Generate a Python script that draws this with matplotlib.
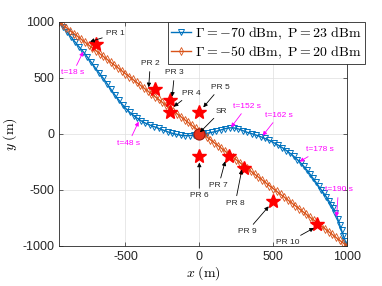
import matplotlib
matplotlib.use("Agg")
import matplotlib.pyplot as plt

plt.rcParams["mathtext.fontset"] = "cm"
plt.rcParams["axes.unicode_minus"] = False

# trajectory 1 (blue): Gamma=-70 dBm, P=23 dBm
blue_x = [-950, -922, -895, -868, -843, -815, -786, -760, -733, -707, -680, -652,
          -625, -598, -570, -545, -520, -495, -470, -445, -420, -393, -365, -335,
          -305, -275, -245, -215, -185, -155, -125, -95, -65, -35, -5, 25, 55, 85,
          115, 145, 175, 205, 235, 265, 295, 325, 355, 385, 415, 445, 475, 505, 535,
          563, 590, 615, 640, 663, 686, 708, 730, 750, 770, 790, 808, 826, 843, 860,
          876, 892, 907, 922, 936, 950, 963, 976, 988, 1000]
blue_y = [1000, 955, 910, 866, 824, 780, 735, 690, 643, 595, 548, 500,
          450, 398, 345, 303, 262, 224, 192, 165, 140, 117, 97, 80,
          65, 50, 35, 20, 7, -3, -11, -15, -14, -10, -4, 2, 7, 15,
          24, 36, 48, 55, 54, 45, 30, 15, 3, -10, -24, -40, -58, -78, -100,
          -123, -148, -173, -200, -228, -258, -290, -325, -360, -396, -432, -466, -500, -530, -562,
          -595, -630, -665, -705, -755, -810, -860, -910, -955, -1000]

# trajectory 2 (orange): Gamma=-50 dBm, P=20 dBm
orange_x = [-950, -925, -900, -875, -850, -825, -800, -775, -750, -725, -700, -675,
            -650, -625, -600, -575, -550, -525, -500, -475, -450, -425, -400, -375,
            -350, -325, -300, -275, -250, -225, -200, -175, -150, -125, -100, -75,
            -50, -25, 0, 25, 50, 75, 100, 125, 150, 175, 200, 225, 250, 275, 300,
            325, 350, 375, 400, 425, 450, 475, 500, 525, 550, 575, 600, 625, 650,
            675, 700, 725, 750, 775, 800, 825, 850, 875, 900, 925, 950, 975, 1000]
orange_y = [1000, 974, 949, 923, 897, 872, 846, 821, 795, 769, 744, 718,
            692, 667, 641, 615, 590, 564, 538, 513, 487, 462, 436, 410,
            385, 359, 333, 308, 282, 256, 231, 205, 179, 154, 128, 103,
            77, 51, 26, 0, -26, -51, -77, -103, -128, -154, -179, -205, -231, -256, -282,
            -308, -333, -359, -385, -410, -436, -462, -487, -513, -538, -564, -590, -615, -641,
            -667, -692, -718, -744, -769, -795, -821, -846, -872, -897, -923, -949, -974, -1000]

legend_labels = [r"$\Gamma{=}{-}70\ \mathrm{dBm},\ \mathrm{P}{=}23\ \mathrm{dBm}$",
                 r"$\Gamma{=}{-}50\ \mathrm{dBm},\ \mathrm{P}{=}20\ \mathrm{dBm}$"]

# primary receivers
pr_names = ["PR 1", "PR 2", "PR 3", "PR 4", "PR 5", "PR 6", "PR 7", "PR 8", "PR 9", "PR 10"]
pr_x = [-700, -300, -200, -200, 0, 0, 200, 300, 500, 800]
pr_y = [800, 400, 300, 200, 200, -200, -200, -300, -600, -800]
pr_tip_x = [-740, -343, -184, -173, 27, 0, 175, 288, 470, 776]
pr_tip_y = [824, 417, 333, 244, 238, -255, -244, -318, -646, -839]
pr_text_x = [-566, -332, -168, -55, 142, 0, 131, 243, 322, 601]
pr_text_y = [896, 625, 545, 363, 417, -553, -461, -619, -872, -967]

# secondary receiver
sr_x, sr_y = 0, 0
sr_tip = (4, 15)
sr_text = (147, 205)

# time stamps on the blue trajectory
t_names = ["t=18 s", "t=48 s", "t=152 s", "t=162 s", "t=178 s", "t=190 s"]
t_tip_x = [-786, -411, 215, 429, 679, 929]
t_tip_y = [735, 110, 60, -15, -247, -741]
t_text_x = [-856, -480, 322, 538, 817, 942]
t_text_y = [545, -83, 247, 167, -140, -500]

blue = (0.0, 0.447, 0.741)
orange = (0.85, 0.325, 0.098)
axcol = (0.15, 0.15, 0.15)

fig = plt.figure(figsize=(3.82, 2.86), dpi=100)
ax = fig.add_axes([0.1545, 0.1399, 0.7539, 0.7832])

ax.plot(blue_x, blue_y, color=blue, lw=1.0, marker="v", ms=4.4,
        mfc="none", mew=0.7, label=legend_labels[0])
ax.plot(orange_x, orange_y, color=orange, lw=1.0, marker="d", ms=3.8,
        mfc="none", mew=0.6, label=legend_labels[1])

ax.plot(pr_x, pr_y, ls="none", marker="*", ms=10, mfc="red", mec="red", zorder=5)
ax.plot([sr_x], [sr_y], ls="none", marker="o", ms=8, mfc="#e8301c",
        mec="#9c1a10", mew=0.8, zorder=5)

arrow_k = dict(arrowstyle="-|>", color="k", lw=0.6, mutation_scale=6,
               shrinkA=1, shrinkB=0)
for name, tx, ty, xx, yy in zip(pr_names, pr_text_x, pr_text_y, pr_tip_x, pr_tip_y):
    ax.annotate(name, xy=(xx, yy), xytext=(tx, ty), ha="center", va="center",
                fontsize=6, family="Liberation Sans", color=axcol,
                arrowprops=arrow_k, zorder=6)
ax.annotate("SR", xy=sr_tip, xytext=sr_text, ha="center", va="center",
            fontsize=6, family="Liberation Sans", color=axcol,
            arrowprops=arrow_k, zorder=6)

arrow_m = dict(arrowstyle="-|>", color="magenta", lw=0.6, mutation_scale=6,
               shrinkA=1, shrinkB=0)
for name, tx, ty, xx, yy in zip(t_names, t_text_x, t_text_y, t_tip_x, t_tip_y):
    ax.annotate(name, xy=(xx, yy), xytext=(tx, ty), ha="center", va="center",
                fontsize=6, family="Liberation Sans", color="magenta",
                arrowprops=arrow_m, zorder=6)

ax.set_xlim(-950, 1000)
ax.set_ylim(-1000, 1000)
ax.set_xticks([-500, 0, 500, 1000])
ax.set_yticks([-1000, -500, 0, 500, 1000])
ax.grid(True, color=(0.87, 0.87, 0.87), lw=0.5)
ax.set_axisbelow(True)
ax.tick_params(direction="in", length=3, width=0.5, top=True, right=True,
               labelsize=9, colors=axcol)
for lab in ax.get_xticklabels() + ax.get_yticklabels():
    lab.set_family("Liberation Sans")
for s in ax.spines.values():
    s.set_color(axcol)
    s.set_linewidth(0.6)

ax.set_xlabel(r"$x\ (\mathrm{m})$", fontsize=10, labelpad=1)
ax.set_ylabel(r"$y\ (\mathrm{m})$", fontsize=10, labelpad=2)

leg = ax.legend(loc="upper left", bbox_to_anchor=(0.378, 1.0), borderaxespad=0,
                fontsize=10, handlelength=1.4, handletextpad=0.3,
                borderpad=0.25, labelspacing=0.2, fancybox=False, framealpha=1)
leg.get_frame().set_edgecolor(axcol)
leg.get_frame().set_linewidth(0.6)

fig.savefig("out.png", dpi=100)
